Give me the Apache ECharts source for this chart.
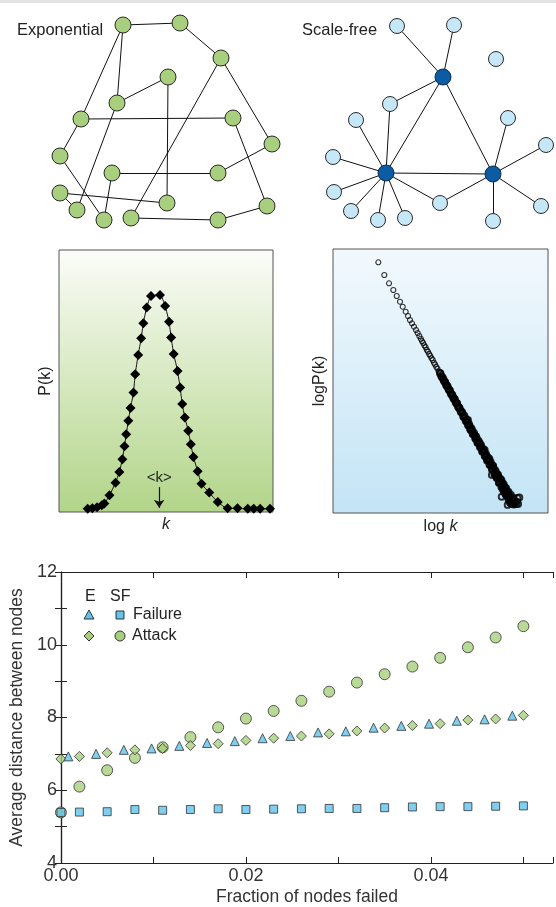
<!DOCTYPE html>
<html>
<head>
<meta charset="utf-8">
<script src="https://cdn.jsdelivr.net/npm/echarts@6/dist/echarts.min.js"></script>
<style>
html,body{margin:0;padding:0;background:#fff;}
#chart{width:556px;height:907px;}
</style>
</head>
<body>
<div id="chart"></div>
<script>
// ---------- Network diagrams (node layout positions) ----------
const expNodeX = [123,180,221,168,117,81,233,60,272,112,218,60,167,77,104,131,218,267];
const expNodeY = [25,23,58,77,103,119,118,156,144,173,173,193,203,210,220,218,220,206];
const expLinks = [[0,1],[1,2],[2,8],[2,15],[0,5],[0,4],[4,3],[3,12],[4,13],[5,6],[5,7],[7,14],[6,17],[8,10],[9,10],[9,14],[11,12],[11,13],[15,16],[16,17]];

const sfNodeX = [443,386,493,397,454,496,390,356,333,334,351,378,405,440,508,546,541,493];
const sfNodeY = [77,173,174,26,25,59,104,120,157,192,211,220,218,203,118,145,206,221];
const sfIsHub = [1,1,1,0,0,0,0,0,0,0,0,0,0,0,0,0,0,0];
const sfLinks = [[0,1],[0,2],[1,2],[3,0],[4,0],[6,0],[6,1],[7,1],[8,1],[9,1],[10,1],[11,1],[12,1],[13,1],[13,2],[14,2],[15,2],[16,2],[17,2]];

// ---------- Exponential degree distribution P(k) (arbitrary units) ----------
const expDegK = [6.7,7.8,8.9,10.0,10.6,11.8,13.2,14.1,14.8,15.3,15.7,16.2,16.7,17.4,17.8,18.5,19.2,19.7,20.5,21.5,23.6,24.8,25.7,26.2,26.8,27.7,28.3,28.8,29.4,30.2,30.8,31.4,32.4,33.3,35.1,37.1,39.4,41.7,44.1,45.5,47.0,49.3];
const expDegP = [1.2,1.4,1.8,2.6,3.2,6.4,11.2,15.3,20.1,25.1,29.7,34.8,39.7,45.6,52.6,59.9,66.3,72.0,78.1,82.4,82.8,78.6,72.6,66.6,60.3,53.8,47.5,41.2,36.1,31.0,25.9,21.0,15.6,10.8,7.4,3.8,1.4,1.4,1.2,1.2,1.2,1.2];
const kMean = 23.4;
const kArrowTop = 9.5, kArrowBottom = 1.6;

// ---------- Scale-free degree distribution (log k, log P) ----------
// distinct low-degree points
const sfLogK = [0.609,0.709,0.788,0.860,0.917,0.972,1.017,1.067,1.106,1.139,1.173,1.206,1.240,1.268,1.295,
1.32,1.34,1.36,1.38,1.40,1.42,1.44,1.46,1.48,1.50,1.52,1.54,1.56,1.58,1.60,1.62];
const sfLogP = [-0.443,-0.867,-1.143,-1.367,-1.567,-1.757,-1.923,-2.090,-2.233,-2.367,-2.477,-2.590,-2.700,-2.800,-2.900,
-2.99,-3.07,-3.13,-3.21,-3.27,-3.36,-3.42,-3.50,-3.56,-3.64,-3.70,-3.79,-3.85,-3.93,-3.99,-4.08];
// dense, noisy high-degree points
const sfTailLogK = [1.64,1.66,1.68,1.70,1.72,1.74,1.76,1.78,1.80,1.82,1.84,1.86,1.88,1.90,1.92,1.94,1.96,1.98,2.00,
2.02,2.04,2.06,2.08,2.10,2.12,2.14,2.16,2.18,2.20,2.22,2.24,2.26,2.28,2.30,2.32,2.34,2.36,2.38,2.40,2.42,2.44,2.46,2.48,2.50,2.52,2.54,2.56,2.58,2.60,2.62,2.64,2.66,2.68,2.70,2.72,2.74,2.76,2.78,2.80,2.82,2.84,
1.65,1.67,1.69,1.71,1.73,1.75,1.77,1.79,1.81,1.83,1.85,1.87,1.89,1.91,1.93,1.95,1.97,1.99,2.01,2.03,2.05,2.07,2.09,2.11,2.13,2.15,2.17,2.19,2.21,2.23,2.25,2.27,2.29,2.31,2.33,2.35,2.37,2.39,2.41,2.43,2.45,2.47,2.49,2.51,2.53,2.55,2.57,2.59,2.61,2.63,2.65,2.67,2.69,2.71,2.73,2.75,2.77,2.79,2.81,2.83,
2.11,2.15,2.19,2.23,2.27,2.31,2.35,2.39,2.43,2.47,2.51,2.53,2.57,2.61,2.63,2.67,2.675,2.69,2.71,2.73,2.75,2.775,2.79,2.81,2.83,2.86,2.87,2.88,2.90,2.92,2.926,2.94,2.97,2.95];
const sfTailLogP = [-4.13,-4.22,-4.27,-4.36,-4.42,-4.51,-4.56,-4.65,-4.70,-4.80,-4.85,-4.94,-4.99,-5.08,-5.13,-5.23,-5.28,-5.37,-5.42,
-5.48,-5.60,-5.62,-5.75,-5.77,-5.89,-5.91,-6.04,-6.05,-6.18,-6.19,-6.33,-6.33,-6.47,-6.47,-6.62,-6.61,-6.76,-6.75,-6.91,-6.89,-7.06,-7.03,-7.20,-7.17,-7.35,-7.31,-7.49,-7.45,-7.63,-7.60,-7.78,-7.74,-7.92,-7.88,-8.06,-8.02,-8.20,-8.17,-8.33,-8.32,-8.47,
-4.15,-4.27,-4.30,-4.41,-4.44,-4.56,-4.58,-4.70,-4.72,-4.85,-4.87,-4.99,-5.01,-5.14,-5.15,-5.28,-5.30,-5.43,-5.43,-5.58,-5.56,-5.72,-5.70,-5.87,-5.84,-6.01,-5.98,-6.16,-6.12,-6.31,-6.26,-6.46,-6.40,-6.60,-6.54,-6.75,-6.68,-6.90,-6.82,-7.05,-6.96,-7.19,-7.10,-7.34,-7.24,-7.49,-7.38,-7.63,-7.52,-7.78,-7.66,-7.93,-7.80,-8.07,-7.95,-8.22,-8.09,-8.36,-8.24,-8.48,
-5.70,-6.02,-6.16,-6.22,-6.45,-6.48,-6.75,-6.70,-7.02,-7.00,-7.53,-7.22,-7.55,-7.52,-7.80,-7.70,-8.26,-8.00,-7.85,-8.15,-7.97,-8.53,-8.10,-8.45,-8.20,-8.50,-8.30,-8.52,-8.42,-8.50,-8.42,-8.30,-8.28,-8.50];

// ---------- Robustness panel ----------
const fracSF = [0,0.002,0.005,0.008,0.011,0.014,0.017,0.020,0.023,0.026,0.029,0.032,0.035,0.038,0.041,0.044,0.047,0.050];
const fracE  = [0.0008,0.0038,0.0068,0.0098,0.0128,0.0158,0.0188,0.0218,0.0248,0.0278,0.0308,0.0338,0.0368,0.0398,0.0428,0.0458,0.0488];
const sfFailure = [5.39,5.40,5.41,5.47,5.45,5.47,5.49,5.47,5.48,5.49,5.50,5.50,5.52,5.54,5.55,5.55,5.56,5.57];
const sfAttack  = [5.39,6.10,6.55,6.89,7.18,7.46,7.73,7.97,8.18,8.46,8.71,8.96,9.19,9.40,9.64,9.93,10.20,10.51];
const eAttack   = [6.86,6.93,7.03,7.11,7.15,7.23,7.28,7.37,7.43,7.49,7.55,7.63,7.71,7.78,7.83,7.93,7.96,8.06];
const eFailure  = [6.93,7.00,7.11,7.15,7.22,7.30,7.35,7.43,7.49,7.59,7.62,7.72,7.77,7.83,7.91,7.95,8.05];
const xTickLabels = ['0.00','0.02','0.04'];
const yTickLabels = ['4','6','8','10','12'];

const FONT = 'Liberation Sans';
const BLUE = '#5fc3ec', GREEN = '#a8cf7d', EDGE = '#333';
const zip = (a, b) => a.map((v, i) => [v, b[i]]);

const chart = echarts.init(document.getElementById('chart'), null, {renderer: 'canvas'});

const plainAxis = (extra) => Object.assign({
  type: 'value', axisLine: {show: false}, axisTick: {show: false},
  axisLabel: {show: false}, splitLine: {show: false}
}, extra);

const option = {
  animation: false,
  backgroundColor: '#fff',
  textStyle: {fontFamily: FONT},
  grid: [
    {left: 0, top: 0, width: 556, height: 240},
    {left: 59, top: 250, width: 214, height: 262, show: true, borderColor: '#555', borderWidth: 1,
     backgroundColor: {type: 'linear', x: 0, y: 0, x2: 0, y2: 1, colorStops: [{offset: 0, color: '#fbfcf8'}, {offset: 1, color: '#b2d589'}]}},
    {left: 333, top: 249, width: 215, height: 264, show: true, borderColor: '#555', borderWidth: 1,
     backgroundColor: {type: 'linear', x: 0, y: 0, x2: 0, y2: 1, colorStops: [{offset: 0, color: '#f2f9fd'}, {offset: 1, color: '#c3e4f6'}]}},
    {left: 57, top: 572, width: 496, height: 291}
  ],
  xAxis: [
    {gridIndex: 0, type: 'value', min: 0, max: 556, show: false},
    plainAxis({gridIndex: 1, min: 0, max: 50, name: 'k', nameLocation: 'middle', nameGap: 5,
      nameTextStyle: {fontSize: 16, fontStyle: 'italic', color: '#222', fontFamily: FONT}}),
    plainAxis({gridIndex: 2, min: -0.15, max: 3.45, name: '{n|log }{i|k}', nameLocation: 'middle', nameGap: 6,
      nameTextStyle: {fontSize: 16, color: '#222', fontFamily: FONT,
        rich: {n: {fontSize: 16, color: '#222', fontFamily: FONT}, i: {fontSize: 16, color: '#222', fontStyle: 'italic', fontFamily: FONT}}}}),
    {gridIndex: 3, type: 'value', min: 0, max: 0.0532, interval: 0.01, position: 'bottom',
      axisLine: {show: true, lineStyle: {color: '#222', width: 1.2}},
      axisTick: {show: true, inside: true, length: 6, lineStyle: {color: '#222'}},
      axisLabel: {show: true, margin: 4, fontSize: 18, color: '#333', fontFamily: FONT,
        formatter: v => (xTickLabels.indexOf(v.toFixed(2)) >= 0 && Math.abs(v * 100 - Math.round(v * 100)) < 1e-6) ? v.toFixed(2) : ''},
      splitLine: {show: false},
      name: 'Fraction of nodes failed', nameLocation: 'middle', nameGap: 25,
      nameTextStyle: {fontSize: 17.5, color: '#333', fontFamily: FONT}},
    {gridIndex: 3, type: 'value', min: 0, max: 0.0532, interval: 0.01, position: 'top',
      axisLine: {show: true, lineStyle: {color: '#222', width: 1.2}},
      axisTick: {show: true, inside: true, length: 6, lineStyle: {color: '#222'}},
      axisLabel: {show: false}, splitLine: {show: false}}
  ],
  yAxis: [
    {gridIndex: 0, type: 'value', min: 0, max: 240, inverse: true, show: false},
    plainAxis({gridIndex: 1, min: 0, max: 100, name: 'P(k)', nameLocation: 'middle', nameGap: 5, nameRotate: 90,
      nameTextStyle: {fontSize: 16, color: '#222', fontFamily: FONT}}),
    plainAxis({gridIndex: 2, min: -8.8, max: 0, name: 'logP(k)', nameLocation: 'middle', nameGap: 5, nameRotate: 90,
      nameTextStyle: {fontSize: 16, color: '#222', fontFamily: FONT}}),
    {gridIndex: 3, type: 'value', min: 4, max: 12, interval: 1, position: 'left',
      axisLine: {show: true, lineStyle: {color: '#222', width: 1.2}},
      axisTick: {show: true, inside: true, length: 6, lineStyle: {color: '#222'}},
      axisLabel: {show: true, margin: 4, fontSize: 18, color: '#333', fontFamily: FONT,
        formatter: v => yTickLabels.indexOf(String(v)) >= 0 ? String(v) : ''},
      splitLine: {show: false},
      name: 'Average distance between nodes', nameLocation: 'middle', nameGap: 28, nameRotate: 90,
      nameTextStyle: {fontSize: 17.5, color: '#333', fontFamily: FONT}},
    {gridIndex: 3, type: 'value', min: 4, max: 12, interval: 1, position: 'right',
      axisLine: {show: true, lineStyle: {color: '#222', width: 1.2}},
      axisTick: {show: true, inside: true, length: 6, lineStyle: {color: '#222'}},
      axisLabel: {show: false}, splitLine: {show: false}}
  ],
  graphic: [
    {type: 'rect', left: 0, top: 0, shape: {width: 556, height: 3}, style: {fill: '#e4e4e4'}, silent: true},
    {type: 'text', x: 17, y: 30, style: {text: 'Exponential', font: '16.5px ' + FONT, fill: '#222', verticalAlign: 'middle'}},
    {type: 'text', x: 302, y: 30, style: {text: 'Scale-free', font: '16.5px ' + FONT, fill: '#222', verticalAlign: 'middle'}},
    // legend of the robustness panel
    {type: 'text', x: 85, y: 597, style: {text: 'E', font: '16px ' + FONT, fill: '#222', verticalAlign: 'middle'}},
    {type: 'text', x: 110, y: 597, style: {text: 'SF', font: '16px ' + FONT, fill: '#222', verticalAlign: 'middle'}},
    {type: 'polygon', shape: {points: [[89, 610], [94, 619], [84, 619]]}, style: {fill: BLUE, stroke: EDGE, lineWidth: 1}},
    {type: 'rect', shape: {x: 116, y: 611, width: 8, height: 8}, style: {fill: BLUE, stroke: EDGE, lineWidth: 1}},
    {type: 'text', x: 133, y: 615, style: {text: 'Failure', font: '16px ' + FONT, fill: '#222', verticalAlign: 'middle'}},
    {type: 'polygon', shape: {points: [[89, 631], [94, 636], [89, 641], [84, 636]]}, style: {fill: GREEN, stroke: EDGE, lineWidth: 1}},
    {type: 'circle', shape: {cx: 120, cy: 636, r: 5}, style: {fill: GREEN, stroke: EDGE, lineWidth: 1}},
    {type: 'text', x: 132, y: 636, style: {text: 'Attack', font: '16px ' + FONT, fill: '#222', verticalAlign: 'middle'}}
  ],
  series: [
    {
      type: 'graph', coordinateSystem: 'cartesian2d', xAxisIndex: 0, yAxisIndex: 0, layout: 'none',
      silent: true, symbol: 'circle', symbolSize: 16,
      itemStyle: {color: GREEN, borderColor: '#2a2a2a', borderWidth: 1},
      lineStyle: {color: '#111', width: 1, opacity: 1, curveness: 0},
      label: {show: false},
      data: zip(expNodeX, expNodeY),
      links: expLinks.map(([s, t]) => ({source: s, target: t}))
    },
    {
      type: 'graph', coordinateSystem: 'cartesian2d', xAxisIndex: 0, yAxisIndex: 0, layout: 'none',
      silent: true, symbol: 'circle',
      lineStyle: {color: '#111', width: 1, opacity: 1, curveness: 0},
      label: {show: false},
      data: sfNodeX.map((x, i) => ({
        value: [x, sfNodeY[i]],
        symbolSize: sfIsHub[i] ? 16 : 15,
        itemStyle: {color: sfIsHub[i] ? '#0b5ca5' : '#c6e7f8', borderColor: sfIsHub[i] ? '#0c2f55' : '#2a2a2a', borderWidth: 1}
      })),
      links: sfLinks.map(([s, t]) => ({source: s, target: t}))
    },
    {
      type: 'line', xAxisIndex: 1, yAxisIndex: 1, silent: true,
      data: zip(expDegK, expDegP), smooth: 0.2,
      symbol: 'diamond', symbolSize: 10, showSymbol: true,
      lineStyle: {color: '#111', width: 1},
      itemStyle: {color: '#000', borderWidth: 0},
      markLine: {
        silent: true, symbol: ['none', 'arrow'], symbolSize: 8, animation: false,
        lineStyle: {color: '#111', width: 1.2, type: 'solid'},
        label: {show: true, position: 'start', formatter: '<k>', fontSize: 15, color: '#222', fontFamily: FONT, distance: 2},
        data: [[{coord: [kMean, kArrowTop]}, {coord: [kMean, kArrowBottom]}]]
      }
    },
    {
      type: 'scatter', xAxisIndex: 2, yAxisIndex: 2, silent: true,
      data: zip(sfLogK, sfLogP), symbol: 'circle', symbolSize: 5,
      itemStyle: {color: 'rgba(0,0,0,0)', borderColor: '#000', borderWidth: 1.1}
    },
    {
      type: 'scatter', xAxisIndex: 2, yAxisIndex: 2, silent: true, large: false,
      data: zip(sfTailLogK, sfTailLogP), symbol: 'circle', symbolSize: 6,
      itemStyle: {color: 'rgba(0,0,0,0)', borderColor: '#000', borderWidth: 1.9}
    },
    {
      type: 'scatter', xAxisIndex: 3, yAxisIndex: 3, name: 'SF Attack', silent: true,
      data: zip(fracSF, sfAttack), symbol: 'circle', symbolSize: 11,
      itemStyle: {color: GREEN, borderColor: EDGE, borderWidth: 1}
    },
    {
      type: 'scatter', xAxisIndex: 3, yAxisIndex: 3, name: 'E Attack', silent: true,
      data: zip(fracSF, eAttack), symbol: 'diamond', symbolSize: 10,
      itemStyle: {color: GREEN, borderColor: EDGE, borderWidth: 1}
    },
    {
      type: 'scatter', xAxisIndex: 3, yAxisIndex: 3, name: 'E Failure', silent: true,
      data: zip(fracE, eFailure), symbol: 'triangle', symbolSize: 9,
      itemStyle: {color: BLUE, borderColor: EDGE, borderWidth: 1}
    },
    {
      type: 'scatter', xAxisIndex: 3, yAxisIndex: 3, name: 'SF Failure', silent: true,
      data: zip(fracSF, sfFailure), symbol: 'rect', symbolSize: 8,
      itemStyle: {color: BLUE, borderColor: EDGE, borderWidth: 1}
    }
  ]
};
chart.setOption(option);
</script>
</body>
</html>
